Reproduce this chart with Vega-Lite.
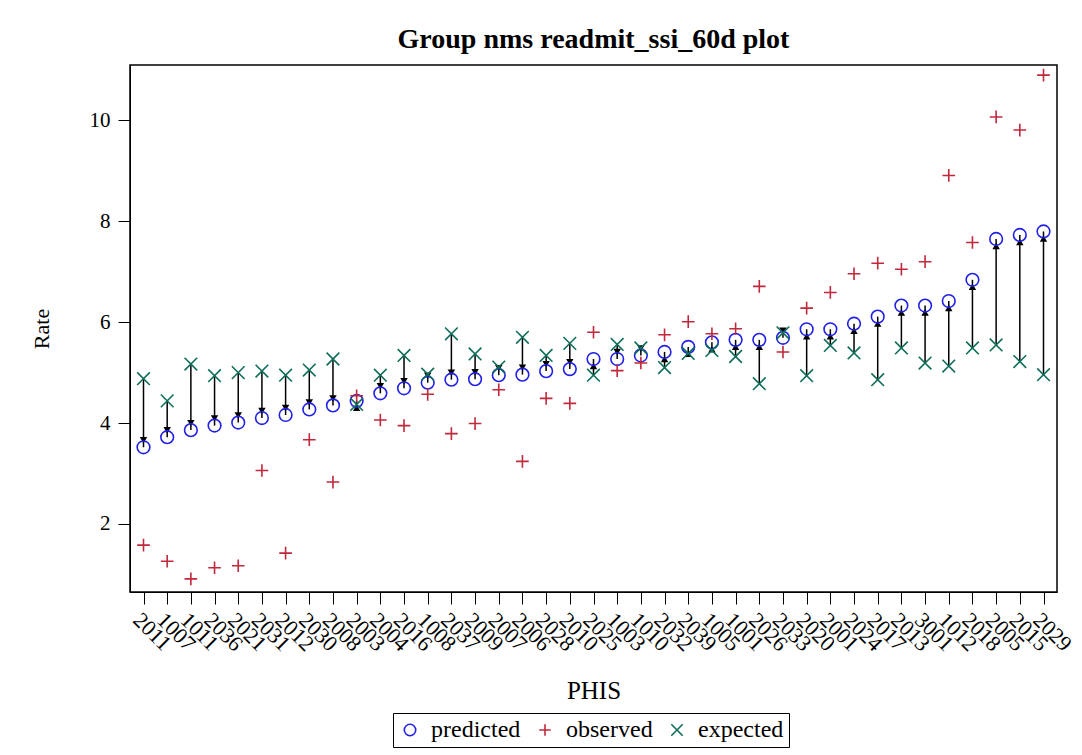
{
  "$schema": "https://vega.github.io/schema/vega-lite/v6.json",
  "width": 927,
  "height": 527,
  "autosize": "none",
  "padding": {"left": 130, "top": 65, "right": 25, "bottom": 163},
  "background": "white",
  "title": {
    "text": "Group nms readmit_ssi_60d plot",
    "font": "Liberation Serif",
    "fontSize": 28,
    "fontWeight": "bold",
    "color": "black",
    "anchor": "middle",
    "offset": 11
  },
  "config": {
    "view": {"stroke": "black", "strokeWidth": 1.5},
    "axis": {
      "labelFont": "Liberation Serif",
      "titleFont": "Liberation Serif",
      "labelColor": "black",
      "titleColor": "black",
      "domainColor": "black",
      "tickColor": "black",
      "grid": false,
      "titleFontWeight": "normal"
    }
  },
  "data": {
    "values": [
      {"PHIS": "2011", "predicted": 3.52, "observed": 1.58, "expected": 4.88},
      {"PHIS": "1007", "predicted": 3.72, "observed": 1.26, "expected": 4.44},
      {"PHIS": "1011", "predicted": 3.86, "observed": 0.91, "expected": 5.17},
      {"PHIS": "2036", "predicted": 3.95, "observed": 1.13, "expected": 4.94},
      {"PHIS": "2021", "predicted": 4.01, "observed": 1.17, "expected": 5.0},
      {"PHIS": "2031", "predicted": 4.1, "observed": 3.06, "expected": 5.03},
      {"PHIS": "2012", "predicted": 4.16, "observed": 1.42, "expected": 4.95},
      {"PHIS": "2030", "predicted": 4.27, "observed": 3.67, "expected": 5.05},
      {"PHIS": "2008", "predicted": 4.35, "observed": 2.83, "expected": 5.27},
      {"PHIS": "2003", "predicted": 4.44, "observed": 4.54, "expected": 4.37},
      {"PHIS": "2004", "predicted": 4.59, "observed": 4.06, "expected": 4.95},
      {"PHIS": "2016", "predicted": 4.69, "observed": 3.95, "expected": 5.34},
      {"PHIS": "1008", "predicted": 4.8, "observed": 4.57, "expected": 4.97},
      {"PHIS": "2037", "predicted": 4.86, "observed": 3.79, "expected": 5.77},
      {"PHIS": "2009", "predicted": 4.87, "observed": 3.99, "expected": 5.37},
      {"PHIS": "2007", "predicted": 4.95, "observed": 4.66, "expected": 5.11},
      {"PHIS": "2006", "predicted": 4.96, "observed": 3.24, "expected": 5.7},
      {"PHIS": "2028", "predicted": 5.03, "observed": 4.49, "expected": 5.34},
      {"PHIS": "2010", "predicted": 5.07, "observed": 4.39, "expected": 5.58},
      {"PHIS": "2025", "predicted": 5.27, "observed": 5.8, "expected": 4.95},
      {"PHIS": "1003", "predicted": 5.27, "observed": 5.04, "expected": 5.56},
      {"PHIS": "1010", "predicted": 5.34, "observed": 5.19, "expected": 5.49},
      {"PHIS": "2032", "predicted": 5.41, "observed": 5.75, "expected": 5.1},
      {"PHIS": "2039", "predicted": 5.51, "observed": 6.01, "expected": 5.38},
      {"PHIS": "1005", "predicted": 5.6, "observed": 5.77, "expected": 5.44},
      {"PHIS": "1001", "predicted": 5.65, "observed": 5.87, "expected": 5.32},
      {"PHIS": "2026", "predicted": 5.65, "observed": 6.71, "expected": 4.78},
      {"PHIS": "2033", "predicted": 5.69, "observed": 5.41, "expected": 5.79},
      {"PHIS": "2020", "predicted": 5.86, "observed": 6.28, "expected": 4.94},
      {"PHIS": "2001", "predicted": 5.86, "observed": 6.59, "expected": 5.54},
      {"PHIS": "2024", "predicted": 5.97, "observed": 6.96, "expected": 5.39},
      {"PHIS": "2017", "predicted": 6.11, "observed": 7.17, "expected": 4.86},
      {"PHIS": "2013", "predicted": 6.33, "observed": 7.05, "expected": 5.49},
      {"PHIS": "3001", "predicted": 6.33, "observed": 7.2, "expected": 5.19},
      {"PHIS": "1012", "predicted": 6.42, "observed": 8.91, "expected": 5.13},
      {"PHIS": "2018", "predicted": 6.84, "observed": 7.58, "expected": 5.49},
      {"PHIS": "2005", "predicted": 7.65, "observed": 10.07, "expected": 5.55},
      {"PHIS": "2015", "predicted": 7.73, "observed": 9.81, "expected": 5.22},
      {"PHIS": "2029", "predicted": 7.8, "observed": 10.9, "expected": 4.96}
    ]
  },
  "encoding": {
    "x": {
      "field": "PHIS",
      "type": "ordinal",
      "sort": null,
      "scale": {"type": "point", "padding": 0.57},
      "axis": {
        "title": "PHIS",
        "labelAngle": 45,
        "labelAlign": "left",
        "labelBaseline": "top",
        "labelFontSize": 22,
        "labelPadding": 5,
        "labelOverlap": false,
        "tickSize": 12,
        "titleFontSize": 25,
        "titlePadding": 24
      }
    }
  },
  "layer": [
    {
      "mark": {"type": "rule", "color": "black", "strokeWidth": 1.5},
      "encoding": {
        "y": {"field": "expected", "type": "quantitative"},
        "y2": {"field": "predicted"}
      }
    },
    {
      "transform": [{"filter": "datum.predicted < datum.expected"}],
      "mark": {"type": "point", "shape": "triangle-down", "filled": true, "color": "black", "size": 55, "opacity": 1, "yOffset": -7},
      "encoding": {"y": {"field": "predicted", "type": "quantitative"}}
    },
    {
      "transform": [{"filter": "datum.predicted >= datum.expected"}],
      "mark": {"type": "point", "shape": "triangle-up", "filled": true, "color": "black", "size": 55, "opacity": 1, "yOffset": 7},
      "encoding": {"y": {"field": "predicted", "type": "quantitative"}}
    },
    {
      "transform": [{"fold": ["predicted", "observed", "expected"], "as": ["series", "value"]}],
      "mark": {"type": "point", "filled": false, "strokeWidth": 1.6, "size": 160, "opacity": 1},
      "encoding": {
        "y": {
          "field": "value",
          "type": "quantitative",
          "scale": {"domain": [0.65, 11.1], "nice": false, "zero": false},
          "axis": {
            "title": "Rate",
            "values": [2, 4, 6, 8, 10],
            "labelFontSize": 21,
            "labelPadding": 8,
            "tickSize": 12,
            "titleFontSize": 22,
            "titlePadding": 36
          }
        },
        "color": {
          "field": "series",
          "type": "nominal",
          "scale": {"domain": ["predicted", "observed", "expected"], "range": ["#2020e8", "#c0283c", "#0e6e5a"]},
          "legend": {
            "title": null,
            "orient": "none",
            "direction": "horizontal",
            "legendX": 263,
            "legendY": 648,
            "strokeColor": "black",
            "padding": 5,
            "labelFont": "Liberation Serif",
            "labelFontSize": 24,
            "labelColor": "black",
            "labelOffset": 9,
            "symbolSize": 130,
            "symbolStrokeWidth": 1.6,
            "columnPadding": 12
          }
        },
        "shape": {
          "field": "series",
          "type": "nominal",
          "scale": {"domain": ["predicted", "observed", "expected"], "range": ["circle", "M-1,0L1,0M0,-1L0,1", "M-1,-1L1,1M-1,1L1,-1"]}
        }
      }
    }
  ]
}
